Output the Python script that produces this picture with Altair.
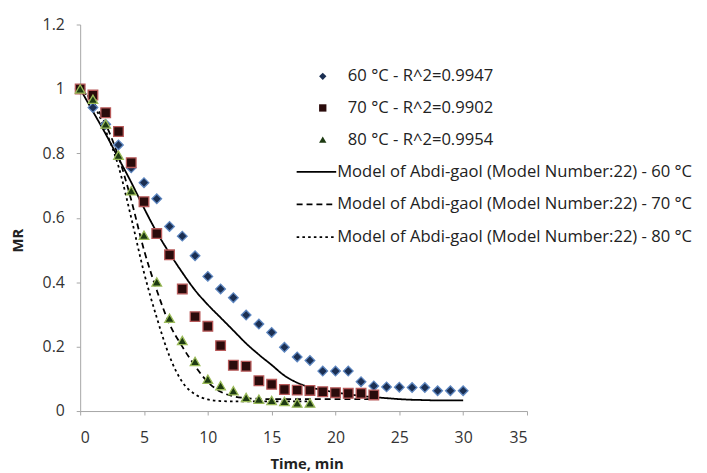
import altair as alt
import pandas as pd

# ---- experimental data ----
time60 = list(range(0, 31))
mr60 = [1.0, 0.942, 0.89, 0.826, 0.755, 0.709, 0.659, 0.573, 0.543, 0.482, 0.418,
        0.379, 0.352, 0.298, 0.270, 0.244, 0.198, 0.168, 0.157, 0.124, 0.124,
        0.124, 0.091, 0.078, 0.075, 0.074, 0.073, 0.073, 0.063, 0.063, 0.063]

time70 = list(range(0, 24))
mr70 = [1.0, 0.981, 0.926, 0.868, 0.771, 0.650, 0.551, 0.485, 0.379, 0.293, 0.263,
        0.203, 0.142, 0.139, 0.094, 0.083, 0.067, 0.065, 0.064, 0.060, 0.057,
        0.055, 0.055, 0.050]

time80 = list(range(0, 19))
mr80 = [1.0, 0.968, 0.891, 0.794, 0.684, 0.546, 0.401, 0.288, 0.219, 0.154, 0.099,
        0.079, 0.063, 0.042, 0.037, 0.033, 0.030, 0.025, 0.025]

# ---- model curves ----
mtime60 = list(range(0, 31))
model60 = [1.0, 0.93, 0.86, 0.785, 0.71, 0.63, 0.555, 0.49, 0.43, 0.375, 0.33,
           0.29, 0.25, 0.21, 0.175, 0.143, 0.11, 0.088, 0.074, 0.065, 0.058,
           0.052, 0.047, 0.043, 0.040, 0.037, 0.035, 0.034, 0.033, 0.033, 0.033]

mtime70 = list(range(0, 24))
model70 = [1.0, 0.96, 0.89, 0.79, 0.655, 0.5, 0.375, 0.27, 0.2, 0.14, 0.09,
           0.06, 0.046, 0.04, 0.038, 0.037, 0.037, 0.037, 0.037, 0.037, 0.037,
           0.037, 0.037, 0.037]

mtime80 = list(range(0, 19))
model80 = [1.0, 0.955, 0.87, 0.76, 0.6, 0.43, 0.29, 0.17, 0.09, 0.052, 0.036,
           0.031, 0.030, 0.030, 0.030, 0.030, 0.030, 0.030, 0.030]

series_names = ["60 °C - R^2=0.9947", "70 °C - R^2=0.9902", "80 °C - R^2=0.9954"]
model_names = ["Model of Abdi-gaol (Model Number:22) - 60 °C",
               "Model of Abdi-gaol (Model Number:22) - 70 °C",
               "Model of Abdi-gaol (Model Number:22) - 80 °C"]

x_ticks = [0, 5, 10, 15, 20, 25, 30, 35]
y_ticks = [0, 0.2, 0.4, 0.6, 0.8, 1.0, 1.2]

rows = []
for name, ts, vs in zip(series_names, [time60, time70, time80], [mr60, mr70, mr80]):
    for t, v in zip(ts, vs):
        rows.append({"time": t, "mr": v, "series": name})
pts = pd.DataFrame(rows)

mrows = []
for name, ts, vs in zip(model_names, [mtime60, mtime70, mtime80], [model60, model70, model80]):
    for t, v in zip(ts, vs):
        mrows.append({"time": t, "mr": v, "model": name})
mdf = pd.DataFrame(mrows)

FONT = "Open Sans"
LEG_FS = 16.8

x_enc = alt.X("time:Q", scale=alt.Scale(domain=[0, 35], nice=False),
              axis=alt.Axis(values=x_ticks, title="Time, min", titleX=229,
                            titleY=58, titleBaseline="alphabetic", labelPadding=15))
y_enc = alt.Y("mr:Q", scale=alt.Scale(domain=[0, 1.2], nice=False),
              axis=alt.Axis(values=y_ticks, format="~g", title="MR",
                            titleX=-58, titleY=218, titleBaseline="alphabetic"))

fill_cols = ["#1b2f52", "#2a0b0b", "#1d3a12"]
stroke_cols = ["#5d86c0", "#b85a5a", "#9bbb59"]

leg_pts = alt.Legend(title=None, orient="none", legendX=237, legendY=44,
                     labelOffset=17, symbolSize=55, symbolStrokeWidth=0,
                     rowPadding=14, padding=0, labelFontSize=LEG_FS,
                     labelLimit=0, labelFont=FONT, labelColor="#222222")

leg_lines = alt.Legend(title=None, orient="none", legendX=218, legendY=128,
                       symbolType="stroke", symbolSize=1600,
                       symbolStrokeColor="black",
                       labelOffset=0, rowPadding=3,
                       padding=0, labelFontSize=LEG_FS,
                       labelLimit=0, labelFont=FONT, labelColor="#222222")

points = alt.Chart(pts).mark_point(filled=True, size=95, strokeWidth=1.3, opacity=1).encode(
    x=x_enc, y=y_enc,
    shape=alt.Shape("series:N", scale=alt.Scale(domain=series_names,
                    range=["diamond", "square", "triangle-up"]), legend=leg_pts),
    fill=alt.Fill("series:N", scale=alt.Scale(domain=series_names, range=fill_cols),
                  legend=leg_pts),
    stroke=alt.Stroke("series:N", scale=alt.Scale(domain=series_names, range=stroke_cols),
                      legend=leg_pts),
)

lines = alt.Chart(mdf).mark_line(color="black", interpolate="monotone",
                                 strokeCap="butt").encode(
    x=x_enc, y=y_enc,
    strokeDash=alt.StrokeDash("model:N", scale=alt.Scale(domain=model_names,
                              range=[[1, 0], [6, 4], [2.6, 3.2]]),
                              legend=leg_lines),
    strokeWidth=alt.StrokeWidth("model:N", scale=alt.Scale(domain=model_names,
                                range=[1.8, 1.8, 3.0]), legend=leg_lines),
)

chart = alt.layer(lines, points).properties(
    width=452, height=391,
    autosize=alt.AutoSizeParams(type="none"),
    padding={"left": 73, "top": 14, "right": 174, "bottom": 62},
    background="white",
).configure_view(stroke=None).configure_axis(
    grid=False, domainColor="#a6a6a6", tickColor="#a6a6a6", tickSize=4,
    labelFont=FONT, labelFontSize=16, labelColor="#333333", labelPadding=12,
    titleFont=FONT, titleFontSize=15, titleFontWeight="bold", titleColor="#222222",
)

chart.save("out.html", embed_options={"renderer": "svg", "actions": False})
